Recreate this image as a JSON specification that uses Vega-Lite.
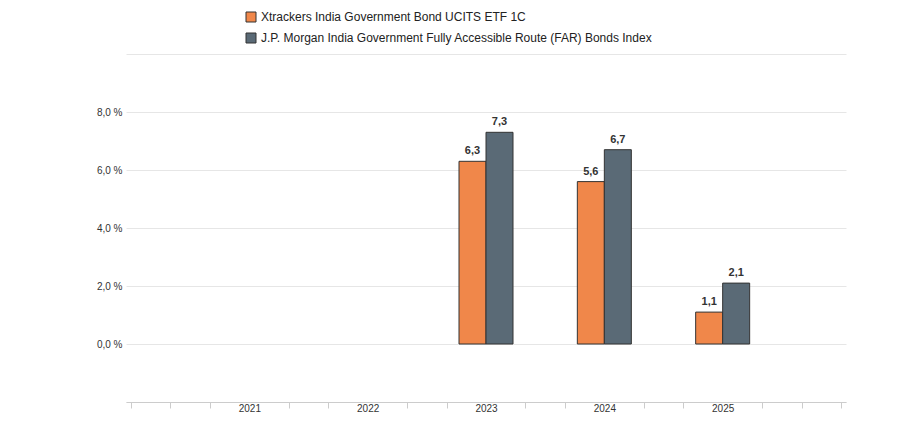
{
  "$schema": "https://vega.github.io/schema/vega-lite/v6.json",
  "width": 720,
  "height": 348,
  "autosize": {"type": "none"},
  "padding": {"left": 126, "top": 54, "right": 59, "bottom": 30},
  "config": {
    "locale": {"number": {"decimal": ",", "thousands": ".", "grouping": [3], "currency": ["", " €"]}},
    "font": "Liberation Sans",
    "view": {"stroke": null}
  },
  "data": {
    "values": [
      {"year": 2023, "series": "Xtrackers India Government Bond UCITS ETF 1C", "value": 6.3},
      {"year": 2023, "series": "J.P. Morgan India Government Fully Accessible Route (FAR) Bonds Index", "value": 7.3},
      {"year": 2024, "series": "Xtrackers India Government Bond UCITS ETF 1C", "value": 5.6},
      {"year": 2024, "series": "J.P. Morgan India Government Fully Accessible Route (FAR) Bonds Index", "value": 6.7},
      {"year": 2025, "series": "Xtrackers India Government Bond UCITS ETF 1C", "value": 1.1},
      {"year": 2025, "series": "J.P. Morgan India Government Fully Accessible Route (FAR) Bonds Index", "value": 2.1}
    ]
  },
  "encoding": {
    "x": {
      "field": "year",
      "type": "quantitative",
      "scale": {"domain": [2020, 2026], "nice": false, "zero": false},
      "axis": {
        "values": [2020, 2020.3333, 2020.6667, 2021, 2021.3333, 2021.6667, 2022, 2022.3333, 2022.6667, 2023, 2023.3333, 2023.6667, 2024, 2024.3333, 2024.6667, 2025, 2025.3333, 2025.6667, 2026],
        "title": null,
        "grid": false,
        "domainColor": "#cccccc",
        "tickColor": "#cccccc",
        "tickSize": 6,
        "tickOpacity": {"condition": {"test": "abs(datum.value-round(datum.value))<0.01 && datum.value>2020.5 && datum.value<2025.5", "value": 0}, "value": 1},
        "labelExpr": "abs(datum.value-round(datum.value))<0.01 && datum.value>2020.5 && datum.value<2025.5 ? '' + round(datum.value) : ''",
        "labelFontSize": 10,
        "labelColor": "#333333",
        "labelPadding": -5,
        "labelFlush": false,
        "labelOverlap": false
      }
    },
    "y": {
      "field": "value",
      "type": "quantitative",
      "scale": {"domain": [-2, 10], "nice": false},
      "axis": {
        "values": [-2, 0, 2, 4, 6, 8, 10],
        "title": null,
        "domain": false,
        "ticks": false,
        "gridColor": "#e6e6e6",
        "format": ".1f",
        "labelExpr": "datum.value >= 0 && datum.value <= 8 ? datum.label + ' %' : ''",
        "labelFontSize": 10,
        "labelColor": "#333333",
        "labelPadding": 4
      }
    }
  },
  "layer": [
    {
      "transform": [{"filter": "datum.series == 'Xtrackers India Government Bond UCITS ETF 1C'"}],
      "mark": {"type": "bar", "width": 27, "xOffset": -13.5, "stroke": "#333333", "strokeWidth": 1},
      "encoding": {
        "color": {
          "field": "series",
          "type": "nominal",
          "scale": {
            "domain": ["Xtrackers India Government Bond UCITS ETF 1C", "J.P. Morgan India Government Fully Accessible Route (FAR) Bonds Index"],
            "range": ["#f0874a", "#5a6a76"]
          },
          "legend": {
            "orient": "none",
            "legendX": 119,
            "legendY": -43,
            "title": null,
            "labelFontSize": 12,
            "labelColor": "#222222",
            "symbolType": "square",
            "symbolSize": 100,
            "symbolStrokeColor": "#333333",
            "symbolStrokeWidth": 1,
            "rowPadding": 7,
            "labelOffset": 4,
            "labelLimit": 600
          }
        }
      }
    },
    {
      "transform": [{"filter": "datum.series != 'Xtrackers India Government Bond UCITS ETF 1C'"}],
      "mark": {"type": "bar", "width": 27, "xOffset": 13.5, "stroke": "#333333", "strokeWidth": 1},
      "encoding": {
        "color": {"field": "series", "type": "nominal"}
      }
    },
    {
      "transform": [{"filter": "datum.series == 'Xtrackers India Government Bond UCITS ETF 1C'"}],
      "mark": {"type": "text", "dx": -13.5, "dy": -5, "baseline": "bottom", "fontSize": 11, "fontWeight": "bold", "color": "#333333"},
      "encoding": {"text": {"field": "value", "type": "quantitative", "format": ".1f"}}
    },
    {
      "transform": [{"filter": "datum.series != 'Xtrackers India Government Bond UCITS ETF 1C'"}],
      "mark": {"type": "text", "dx": 13.5, "dy": -5, "baseline": "bottom", "fontSize": 11, "fontWeight": "bold", "color": "#333333"},
      "encoding": {"text": {"field": "value", "type": "quantitative", "format": ".1f"}}
    }
  ]
}
